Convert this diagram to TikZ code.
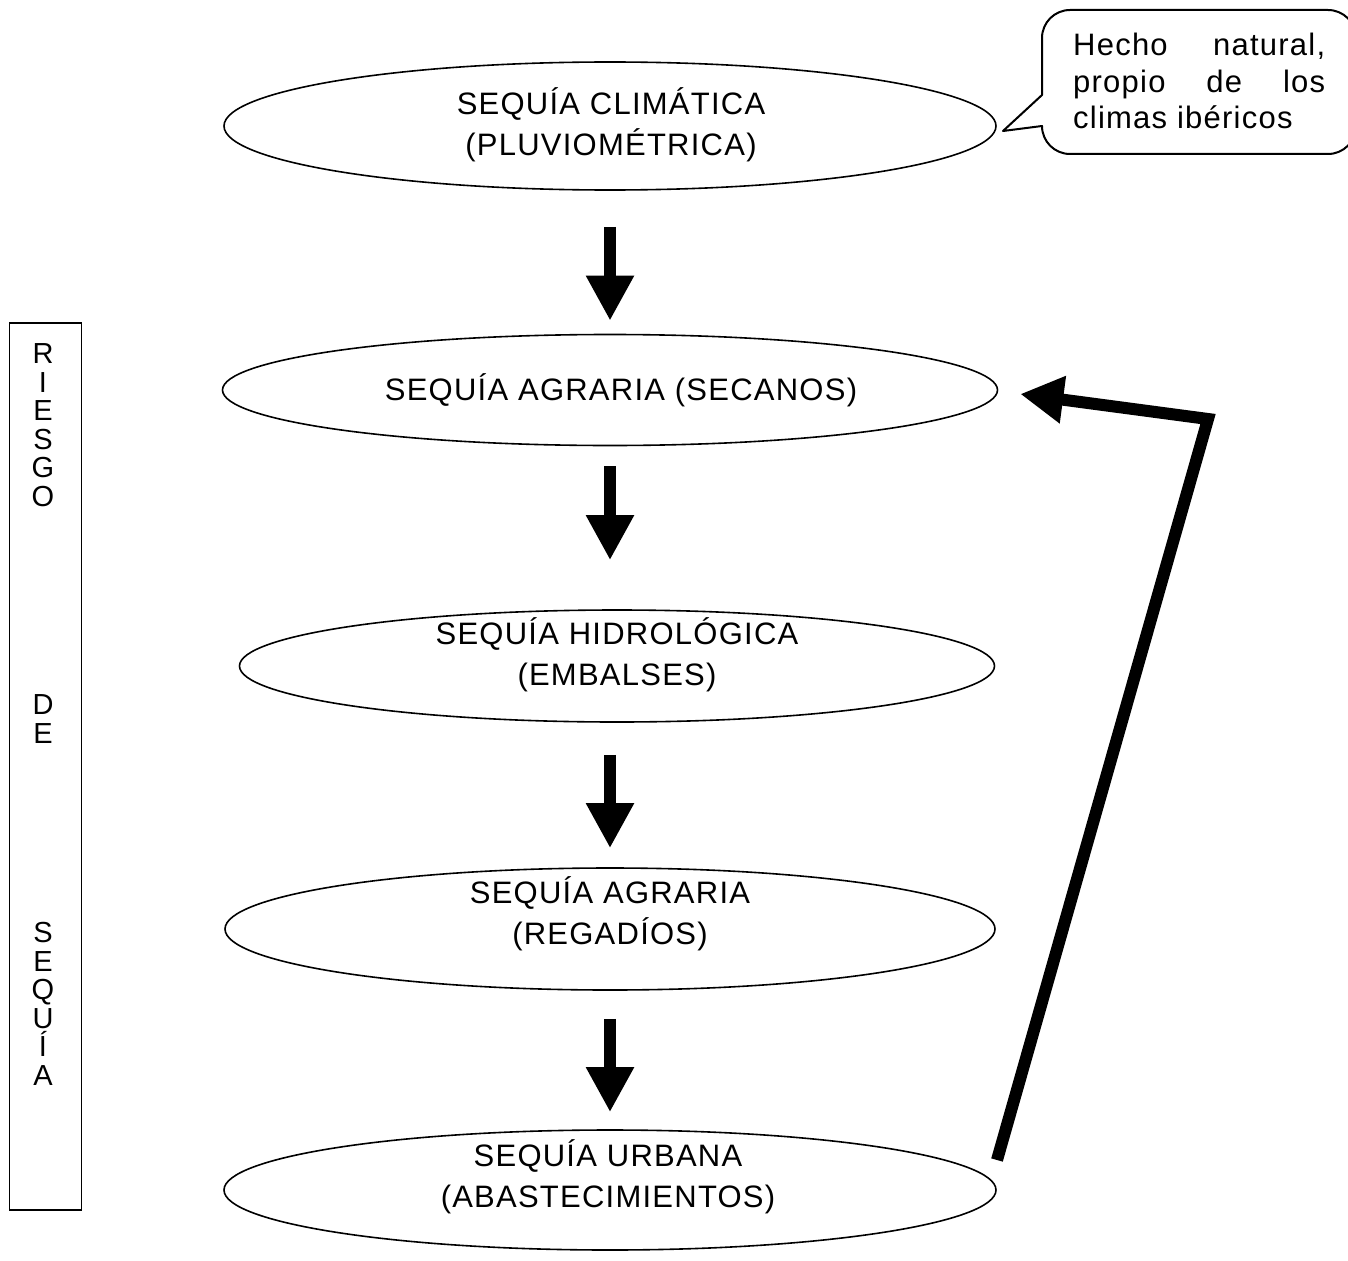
\documentclass[tikz,border=0pt]{standalone}
\usepackage{fontspec}
\setmainfont{Liberation Sans}[LetterSpace=4]
\usetikzlibrary{shapes.geometric,arrows.meta,calc}
\begin{document}
\begin{tikzpicture}[x=1pt,y=-1pt,
  bub/.style={draw,ellipse,line width=1.6pt,inner sep=0pt},
  btext/.style={align=center,inner sep=0pt,font=\fontsize{31}{41}\selectfont},
  blockarr/.style={line width=12pt,line cap=butt,-{Triangle[width=45pt,length=45pt]}},
  retarr/.style={line width=12pt,line cap=butt,-{Triangle[width=45pt,length=43pt]}},
  letters/.style={align=center,inner sep=0pt,font=\fontsize{29}{28.5}\selectfont},
  calloutline/.style={draw,line width=2pt,line join=round}]
\useasboundingbox (0,0) rectangle (1348,1260);
\begin{scope}
\clip (0,0) rectangle (1348,1260);
\draw[calloutline] (1042,95) -- (1042,38) arc[start angle=180,end angle=270,radius=28]
  -- (1328,10) arc[start angle=270,end angle=360,radius=28]
  -- (1356,126) arc[start angle=0,end angle=90,radius=28]
  -- (1070,154) arc[start angle=90,end angle=180,radius=28]
  -- (1003,131) -- cycle;
\end{scope}
\node[anchor=north west,inner sep=0pt,align=left,font=\fontsize{31}{36.5}\selectfont] (callout) at (1073,33)
  {\makebox[252pt][s]{Hecho\hfill natural,}\\
   \makebox[252pt][s]{propio\hfill de\hfill los}\\
   climas ibéricos};

\node[bub,minimum width=772pt,minimum height=128pt] (e1) at (610,126) {};
\node[bub,minimum width=775pt,minimum height=111pt] (e2) at (610,390) {};
\node[bub,minimum width=755pt,minimum height=112pt] (e3) at (617,666) {};
\node[bub,minimum width=770pt,minimum height=122pt] (e4) at (610,929) {};
\node[bub,minimum width=772pt,minimum height=120pt] (e5) at (610,1190) {};

\node[btext] (e1t) at (611,125) {SEQUÍA CLIMÁTICA\\(PLUVIOMÉTRICA)};
\node[btext] (e2t) at (621,390) {SEQUÍA AGRARIA (SECANOS)};
\node[btext] (e3t) at (617,655) {SEQUÍA HIDROLÓGICA\\(EMBALSES)};
\node[btext] (e4t) at (610,914) {SEQUÍA AGRARIA\\(REGADÍOS)};
\node[btext] (e5t) at (608,1177) {SEQUÍA URBANA\\(ABASTECIMIENTOS)};

\draw[blockarr] ($(e1.south)+(0,36)$) -- ($(e2.north)+(0,-13)$);
\draw[blockarr] ($(e2.south)+(0,20)$) -- ($(e2.south |- e3.north)+(0,-49)$);
\draw[blockarr] ($(e4.north |- e3.south)+(0,32)$) -- ($(e4.north)+(0,-19)$);
\draw[blockarr] ($(e4.south)+(0,28)$) -- ($(e5.north)+(0,-17)$);

\coordinate (rs) at (997,1160);
\coordinate (rc) at (1208,419);
\draw[retarr] (rs) -- (rc) -- ($(e2.east)+(22,4)$);

\node[draw,line width=1.6pt,minimum width=72pt,minimum height=887pt,inner sep=0pt] (box) at (45.5,766.5) {};
\node[letters] (riesgo) at (43,425) {R\\I\\E\\S\\G\\O};
\node[letters] (de) at (43,719) {D\\E};
\node[letters] (sequia) at (43,1004) {S\\E\\Q\\U\\Í\\A};
\end{tikzpicture}
\end{document}
